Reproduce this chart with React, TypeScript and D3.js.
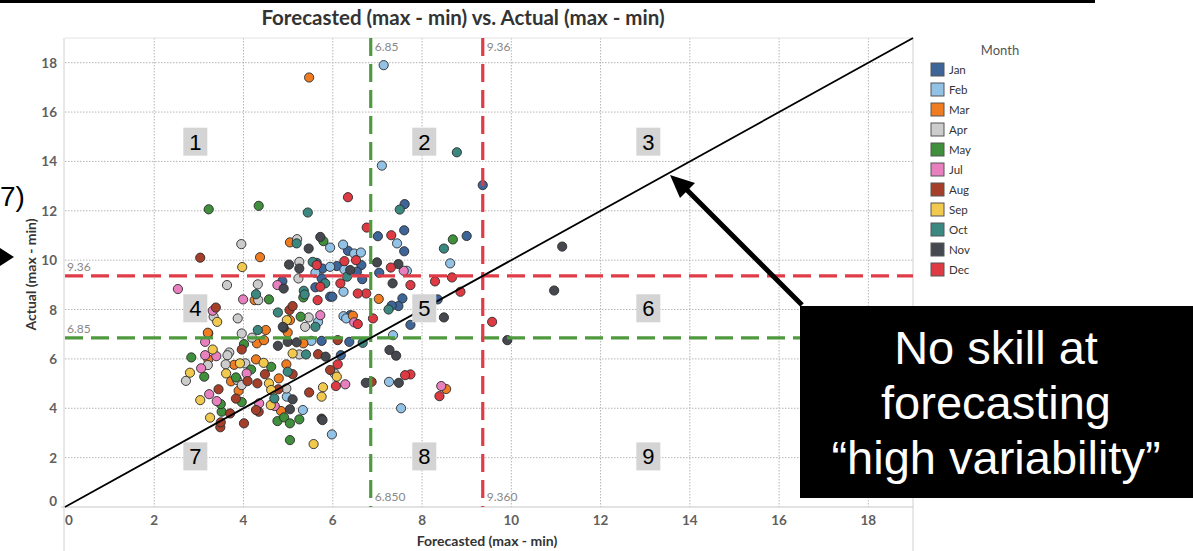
import React from 'react'
import * as d3 from 'd3'

// month legend + colours
const months = ['Jan', 'Feb', 'Mar', 'Apr', 'May', 'Jul', 'Aug', 'Sep', 'Oct', 'Nov', 'Dec']
const monthColors = ['#3d6598', '#92c2e6', '#f07c22', '#cccccc', '#3f8f3c', '#e880c0', '#a63f2a', '#f1c94f', '#3a8880', '#45484f', '#dd3a44']

const janPts = [[9.36, 13.04], [7.61, 12.27], [9.0, 10.98], [8.35, 8.41], [6.34, 10.38], [6.64, 9.8], [7.01, 10.97], [7.6, 11.21], [7.6, 10.36], [7.04, 9.49], [7.56, 8.45], [7.47, 8.14], [7.32, 8.16], [7.74, 7.38], [6.66, 9.23], [6.54, 9.53], [6.09, 9.76], [5.77, 9.66], [5.64, 9.89], [5.75, 9.26], [5.61, 8.9], [5.94, 8.52], [5.99, 8.52], [6.39, 7.77], [4.87, 9.15], [6.37, 6.69], [6.18, 6.15], [5.75, 6.73]]
const febPts = [[7.14, 17.9], [7.1, 13.83], [8.63, 9.87], [5.94, 10.51], [6.23, 10.63], [6.48, 10.27], [6.63, 10.31], [7.44, 10.68], [7.66, 9.57], [6.24, 8.72], [6.26, 9.62], [5.94, 9.73], [5.61, 9.49], [6.24, 7.73], [6.3, 7.64], [5.67, 7.5], [7.35, 6.96], [7.26, 5.07], [7.53, 4.0], [4.97, 4.47], [5.33, 3.93], [5.98, 2.94], [5.52, 6.73]]
const marPts = [[5.47, 17.4], [5.04, 10.72], [4.37, 10.12], [7.03, 8.43], [6.45, 7.75], [4.25, 8.38], [5.04, 7.57], [3.21, 7.03], [4.5, 7.17], [5.34, 6.63], [3.2, 7.06], [3.21, 5.98], [3.79, 5.76], [3.72, 5.09], [3.89, 4.71], [4.28, 5.98], [4.3, 6.63], [4.46, 6.76], [4.79, 5.21], [4.96, 5.78], [4.84, 3.89], [8.54, 4.78], [4.99, 7.07]]
const aprPts = [[3.95, 10.65], [3.63, 8.99], [5.25, 9.93], [4.33, 8.38], [4.32, 9.02], [5.23, 9.26], [3.33, 7.71], [3.87, 7.64], [5.46, 7.68], [5.38, 7.3], [4.19, 6.86], [3.96, 7.03], [3.68, 6.26], [3.64, 6.15], [3.6, 5.78], [2.71, 5.11], [3.2, 5.75], [3.86, 5.14], [3.96, 4.94], [4.04, 5.82], [5.25, 6.18], [6.04, 5.41], [5.2, 10.85], [4.96, 4.8]]
const mayPts = [[3.22, 12.06], [4.34, 12.2], [8.69, 10.84], [5.79, 10.77], [5.34, 8.49], [4.57, 8.41], [5.28, 7.71], [2.83, 6.06], [3.12, 5.28], [3.83, 5.25], [4.17, 5.57], [4.01, 6.6], [4.62, 5.68], [4.76, 3.48], [4.91, 3.63], [5.04, 3.39], [5.25, 3.55], [5.04, 2.71], [3.51, 3.86], [3.49, 4.17], [3.96, 4.25]]
const julPts = [[2.53, 8.83], [7.59, 9.57], [6.48, 7.48], [4.76, 8.99], [3.99, 8.41], [3.31, 7.95], [5.72, 7.77], [3.14, 6.69], [3.14, 6.15], [3.39, 6.11], [3.05, 5.62], [4.07, 5.41], [6.28, 4.97], [8.43, 4.9], [4.7, 4.09], [3.23, 4.57], [3.4, 4.29], [4.35, 4.2]]
const augPts = [[3.03, 10.1], [3.38, 8.08], [5.03, 7.98], [5.1, 8.14], [3.96, 6.38], [4.09, 5.1], [4.31, 5.01], [4.48, 5.38], [4.34, 3.86], [4.78, 4.77], [5.1, 5.38], [5.67, 6.19], [5.94, 5.55], [5.47, 4.64], [6.11, 6.76], [4.01, 3.39], [3.48, 3.23], [3.49, 3.43], [3.7, 3.79], [3.44, 4.77], [3.83, 4.39], [4.28, 3.93], [6.87, 5.07]]
const sepPts = [[3.97, 9.72], [3.41, 7.5], [4.97, 7.57], [3.31, 6.38], [3.61, 5.41], [2.8, 5.44], [3.92, 5.82], [4.45, 5.84], [4.57, 5.01], [4.62, 4.74], [5.1, 6.22], [6.09, 5.28], [5.78, 4.85], [5.75, 4.47], [4.61, 4.13], [3.25, 3.62], [3.03, 4.33], [5.57, 2.55]]
const octPts = [[8.78, 14.37], [5.44, 11.93], [7.5, 12.05], [8.49, 10.47], [5.19, 10.68], [7.25, 8.0], [6.32, 9.33], [5.55, 9.93], [5.83, 9.06], [5.35, 8.76], [5.37, 8.61], [4.28, 8.62], [4.77, 7.88], [5.61, 7.3], [6.67, 6.65], [4.99, 5.48], [5.4, 6.18], [4.69, 4.4], [4.32, 7.17]]
const novPts = [[11.14, 10.55], [10.96, 8.77], [8.49, 7.68], [9.91, 6.76], [5.72, 10.94], [5.46, 10.47], [6.99, 9.91], [7.47, 9.84], [7.34, 9.06], [6.39, 9.6], [5.25, 9.66], [5.02, 9.82], [4.9, 8.85], [4.9, 7.26], [4.77, 6.53], [4.99, 6.69], [5.19, 6.67], [7.27, 6.36], [7.42, 6.13], [7.48, 5.03], [6.74, 5.03], [5.84, 6.09], [5.1, 4.36], [5.04, 3.96], [5.75, 3.58], [5.77, 3.52], [4.88, 7.3]]
const decPts = [[6.34, 12.55], [6.76, 11.32], [7.31, 11.01], [6.52, 10.0], [7.3, 9.7], [7.74, 8.99], [8.29, 9.14], [8.67, 9.3], [8.86, 8.72], [9.57, 7.5], [6.9, 7.64], [6.75, 8.65], [6.56, 8.65], [6.17, 9.06], [6.26, 9.96], [5.64, 9.8], [5.72, 8.92], [5.66, 8.38], [6.56, 7.41], [7.74, 5.37], [8.39, 4.49], [6.11, 5.78], [6.07, 4.9], [7.62, 5.34]]
const monthPts = [janPts, febPts, marPts, aprPts, mayPts, julPts, augPts, sepPts, octPts, novPts, decPts]

const xTicks = [0, 2, 4, 6, 8, 10, 12, 14, 16, 18]
const yTicks = [0, 2, 4, 6, 8, 10, 12, 14, 16, 18]

// reference lines (same value used on both axes)
const refValues = [6.85, 9.36]
const refColors = ['#4f9a3f', '#e03c48']

// quadrant numbers, placed in data space
const quadNames = ['1', '2', '3', '4', '5', '6', '7', '8', '9']
const quadX = [2.92, 8.05, 13.07]
const quadY = [14.8, 8.05, 2.05]

const noteLines = ['No skill at', 'forecasting', '\u201chigh variability\u201d']

const W = 1193
const H = 551
const FONT = 'Lato, "Noto Sans", sans-serif'
const ARIAL = '"Liberation Sans", Arial, sans-serif'

export default function App() {
  const x = d3.scaleLinear().domain([0, 19]).range([65, 913])
  const y = d3.scaleLinear().domain([0, 19]).range([507, 38])
  const [x0, x1] = x.range()
  const [y0, y1] = y.range()

  const diag = d3.line<number>().x(d => x(d)).y(d => y(d))([0, 19])

  return (
    <div style={{ position: 'absolute', left: 0, top: 0 }}>
      <svg width={W} height={H} style={{ display: 'block', background: '#fff' }}>
        {/* slide bar at the top */}
        <rect x={0} y={0} width={1095} height={3} fill="#000" />

        <text x={463} y={25} textAnchor="middle" fontFamily={FONT} fontWeight="bold" fontSize={20.5} fill="#333">
          Forecasted (max - min) vs. Actual (max - min)
        </text>

        {/* grid */}
        <g stroke="#b5b5b5" strokeWidth={1} strokeDasharray="1.5,1.5">
          {xTicks.filter(t => t > 0).map(t => (
            <line key={'gx' + t} x1={x(t)} x2={x(t)} y1={y1} y2={y0} />
          ))}
          {yTicks.filter(t => t > 0).map(t => (
            <line key={'gy' + t} x1={x0} x2={x1} y1={y(t)} y2={y(t)} />
          ))}
        </g>
        <line x1={x0} x2={x1} y1={y1} y2={y1} stroke="#e4e4e4" />
        <line x1={x0 - 1} x2={x0 - 1} y1={y1} y2={H} stroke="#d0d0d0" />
        <line x1={x1} x2={x1} y1={y1} y2={H} stroke="#d0d0d0" />
        <line x1={x0 - 4} x2={x1} y1={y0} y2={y0} stroke="#c8c8c8" />

        {/* axes labels */}
        <g fontFamily={FONT} fontWeight="bold" fontSize={13.5} fill="#5f5f5f">
          {xTicks.map(t => (
            <text key={'tx' + t} x={x(t) + (t === 0 ? 4 : 0)} y={525} textAnchor="middle">{t}</text>
          ))}
          {yTicks.map(t => (
            <text key={'ty' + t} x={57} y={y(t) + 5 - (t === 0 ? 6 : 0)} textAnchor="end">{t}</text>
          ))}
        </g>
        <text x={487} y={546} textAnchor="middle" fontFamily={FONT} fontWeight="bold" fontSize={14} fill="#333">
          Forecasted (max - min)
        </text>
        <text transform={`translate(36,${(y0 + y1) / 2 + 2}) rotate(-90)`} textAnchor="middle" fontFamily={FONT} fontWeight="bold" fontSize={14} fill="#333">
          Actual (max - min)
        </text>

        {/* marks */}
        <g stroke="#2a2a2a" strokeWidth={0.9}>
          {monthPts.map((pts, i) =>
            pts.map((p, j) => (
              <circle key={months[i] + j} cx={x(p[0])} cy={y(p[1])} r={4.6} fill={monthColors[i]} />
            ))
          )}
        </g>

        {/* reference lines */}
        {refValues.map((v, i) => (
          <g key={'ref' + v}>
            <line x1={x(v)} x2={x(v)} y1={y1} y2={y0} stroke={refColors[i]} strokeWidth={3.2} strokeDasharray="18,8" />
            <line x1={x0} x2={x1} y1={y(v)} y2={y(v)} stroke={refColors[i]} strokeWidth={3.2} strokeDasharray="18,8" />
            <g fontFamily={FONT} fontSize={12} fill="#888">
              <text x={x(v) + 4} y={y1 + 13}>{v.toFixed(2)}</text>
              <text x={x(v) + 4} y={y0 - 6}>{v.toFixed(3)}</text>
              <text x={x0 + 2} y={y(v) - 5}>{v.toFixed(2)}</text>
            </g>
          </g>
        ))}

        {/* one-to-one line */}
        <path d={diag ?? ''} stroke="#000" strokeWidth={1.8} fill="none" />

        {/* quadrant numbers */}
        {quadNames.map((q, i) => {
          const cx = x(quadX[i % 3])
          const cy = y(quadY[Math.floor(i / 3)])
          return (
            <g key={'q' + q}>
              <rect x={cx - 12} y={cy - 14} width={24} height={28} fill="#d4d4d4" />
              <text x={cx} y={cy + 8} textAnchor="middle" fontFamily={ARIAL} fontSize={22} fill="#000">{q}</text>
            </g>
          )
        })}

        {/* legend */}
        <text x={1000} y={55} textAnchor="middle" fontFamily={FONT} fontSize={13} fill="#555">Month</text>
        {months.map((m, i) => (
          <g key={'lg' + m} transform={`translate(931,${63 + i * 20})`}>
            <rect x={0} y={0} width={13} height={13} fill={monthColors[i]} stroke="#555" strokeWidth={1} />
            <text x={18} y={11} fontFamily={FONT} fontSize={11.5} fill="#333">{m}</text>
          </g>
        ))}

        {/* annotation */}
        <line x1={802} y1={305} x2={683} y2={186} stroke="#000" strokeWidth={5} />
        <path d="M670,175 L695,183 L680,198 Z" fill="#000" />
        <rect x={800} y={306} width={393} height={192} fill="#000" />
        {noteLines.map((s, i) => (
          <text key={'n' + i} x={996} y={364 + i * 55} textAnchor="middle" fontFamily={ARIAL} fontSize={47} fill="#fff">{s}</text>
        ))}

        {/* bits of the slide cut off at the left */}
        <text x={0} y={206} fontFamily={ARIAL} fontSize={28} fill="#000">7)</text>
        <path d="M0,248 L14,257 L0,266 Z" fill="#000" />
      </svg>
    </div>
  )
}
